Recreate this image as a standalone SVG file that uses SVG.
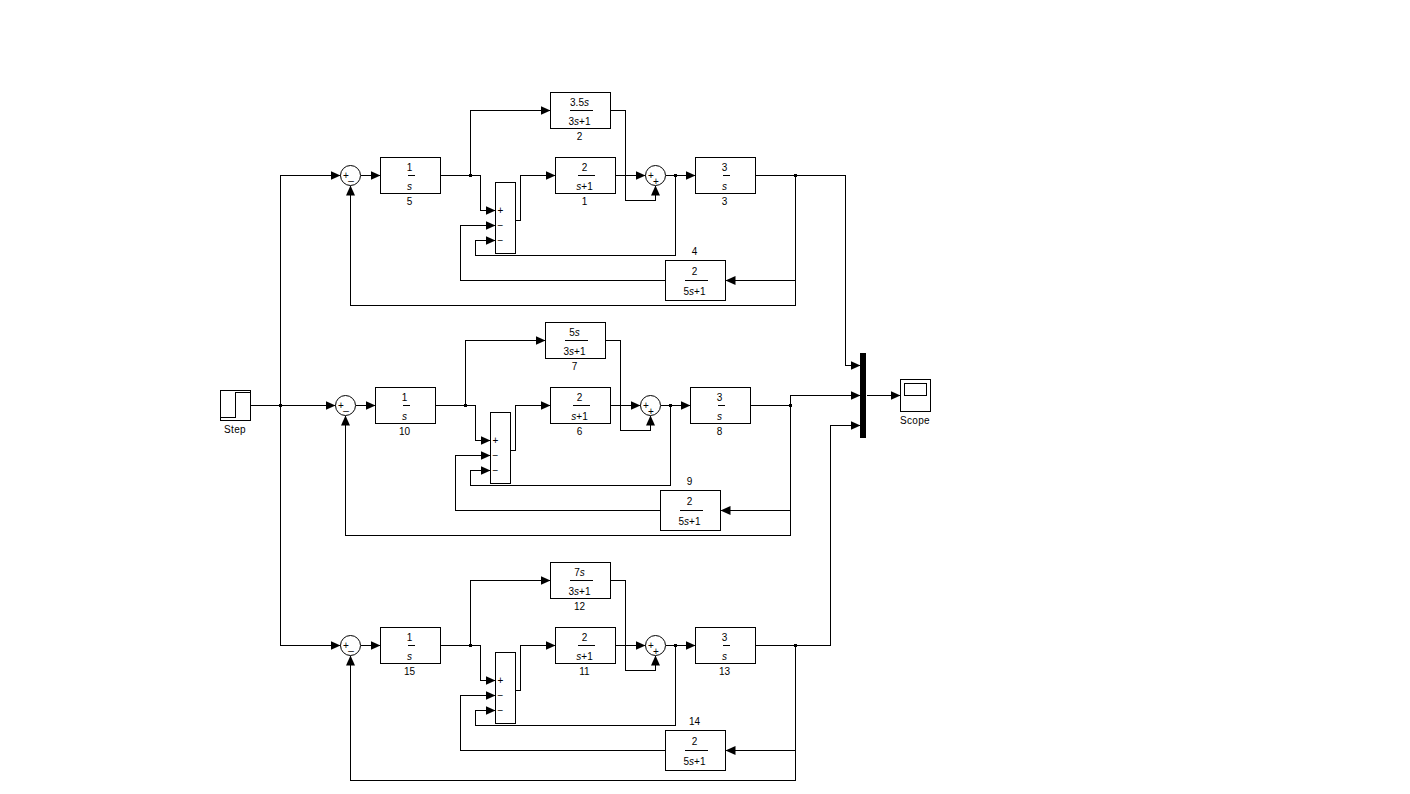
<svg xmlns="http://www.w3.org/2000/svg" width="1410" height="794" viewBox="0 0 1410 794">
<style>
text{font-family:"Liberation Sans",Arial,sans-serif;font-size:10px;fill:#000;text-anchor:middle}
.i{font-style:italic}
rect,circle{fill:#fff;stroke:#000;stroke-width:1}
.w{fill:none;stroke:#000;stroke-width:1;shape-rendering:crispEdges}
.a{marker-end:url(#arrow)}
.b{stroke:#000;stroke-width:1;shape-rendering:crispEdges}
rect{shape-rendering:crispEdges}
.j{fill:#000;stroke:none}
</style>
<defs><marker id="arrow" markerUnits="userSpaceOnUse" markerWidth="11" markerHeight="11" refX="10" refY="5" orient="auto"><path d="M0,0.500L10,5L0,9.500z" fill="#000"/></marker></defs>
<rect width="1410" height="794" style="fill:#fff;stroke:none"/>
<g transform="translate(.5,.5)">
<g id="connectors">
<path class="w a" d="M250,405H335"/>
<path class="w a" d="M280,405V175H340"/>
<path class="w a" d="M280,405V645H340"/>
<path class="w a" d="M360,175H380"/>
<path class="w a" d="M440,175H470V110H550"/>
<path class="w a" d="M470,175H480V210H495"/>
<path class="w a" d="M515,220H520V175H555"/>
<path class="w a" d="M610,110H625V200H655V185"/>
<path class="w a" d="M615,175H645"/>
<path class="w a" d="M665,175H695"/>
<path class="w a" d="M675,175V255H475V240H495"/>
<path class="w" d="M755,175H845"/>
<path class="w a" d="M845,175V365H860"/>
<path class="w a" d="M795,175V280H725"/>
<path class="w a" d="M795,280V305H350V185"/>
<path class="w a" d="M665,280H460V225H495"/>
<path class="w a" d="M355,405H375"/>
<path class="w a" d="M435,405H465V340H545"/>
<path class="w a" d="M465,405H475V440H490"/>
<path class="w a" d="M510,450H515V405H550"/>
<path class="w a" d="M605,340H620V430H650V415"/>
<path class="w a" d="M610,405H640"/>
<path class="w a" d="M660,405H690"/>
<path class="w a" d="M670,405V485H470V470H490"/>
<path class="w a" d="M750,405H790V395H860"/>
<path class="w a" d="M790,405V510H720"/>
<path class="w a" d="M790,510V535H345V415"/>
<path class="w a" d="M660,510H455V455H490"/>
<path class="w a" d="M360,645H380"/>
<path class="w a" d="M440,645H470V580H550"/>
<path class="w a" d="M470,645H480V680H495"/>
<path class="w a" d="M515,690H520V645H555"/>
<path class="w a" d="M610,580H625V670H655V655"/>
<path class="w a" d="M615,645H645"/>
<path class="w a" d="M665,645H695"/>
<path class="w a" d="M675,645V725H475V710H495"/>
<path class="w a" d="M755,645H830V425H860"/>
<path class="w a" d="M795,645V750H725"/>
<path class="w a" d="M795,750V780H350V655"/>
<path class="w a" d="M665,750H460V695H495"/>
<path class="w a" d="M866,395H900"/>
<rect class="j" x="278.500" y="403.500" width="3" height="3"/>
<rect class="j" x="468.500" y="173.500" width="3" height="3"/>
<rect class="j" x="673.500" y="173.500" width="3" height="3"/>
<rect class="j" x="793.500" y="173.500" width="3" height="3"/>
<rect class="j" x="463.500" y="403.500" width="3" height="3"/>
<rect class="j" x="668.500" y="403.500" width="3" height="3"/>
<rect class="j" x="788.500" y="403.500" width="3" height="3"/>
<rect class="j" x="468.500" y="643.500" width="3" height="3"/>
<rect class="j" x="673.500" y="643.500" width="3" height="3"/>
<rect class="j" x="793.500" y="643.500" width="3" height="3"/>
</g>

<g id="step"><rect x="220" y="390" width="30" height="30"/><path class="w" d="M220,417H235V392H250"/><text x="234.500" y="432" style="letter-spacing:.3px">Step</text></g>
<g id="scope"><rect x="900" y="379" width="30" height="32"/><rect x="904" y="383" width="22" height="12"/><text x="914.500" y="423" style="letter-spacing:.3px">Scope</text></g>
<g id="mux"><rect x="860" y="353" width="5" height="84" style="fill:#000"/></g>

<g id="sum-a1"><circle cx="350" cy="175" r="10"/><text x="345.500" y="178.500">+</text><text x="350.500" y="179">_</text></g>
<g id="sum-a2"><circle cx="655" cy="175" r="10"/><text x="650.500" y="178.500">+</text><text x="655.500" y="184">+</text></g>
<g id="sum-a3"><rect x="495" y="182" width="20" height="71"/><text x="500" y="213.500">+</text><text x="500" y="228.500">−</text><text x="500" y="243.500">−</text></g>
<g id="b5"><rect x="380" y="157" width="60" height="36"/><text x="409" y="170">1</text><path class="b" d="M407,175H414"/><text x="409" y="189" class="i">s</text><text x="409" y="204.500">5</text></g>
<g id="b2"><rect x="550" y="92" width="60" height="36"/><text x="579" y="105">3.5<tspan class="i">s</tspan></text><path class="b" d="M569,110H592"/><text x="579" y="124">3<tspan class="i">s</tspan>+1</text><text x="579" y="139.500">2</text></g>
<g id="b1"><rect x="555" y="157" width="60" height="36"/><text x="584" y="170">2</text><path class="b" d="M577,175H594"/><text x="584" y="189"><tspan class="i">s</tspan>+1</text><text x="584" y="204.500">1</text></g>
<g id="b3"><rect x="695" y="157" width="60" height="36"/><text x="724" y="170">3</text><path class="b" d="M722,175H729"/><text x="724" y="189" class="i">s</text><text x="724" y="204.500">3</text></g>
<g id="b4"><rect x="665" y="260" width="60" height="40"/><text x="694" y="254.500">4</text><text x="694" y="274">2</text><path class="b" d="M684,280H707"/><text x="694" y="294">5<tspan class="i">s</tspan>+1</text></g>

<g id="sum-b1"><circle cx="345" cy="405" r="10"/><text x="340.500" y="408.500">+</text><text x="345.500" y="409">_</text></g>
<g id="sum-b2"><circle cx="650" cy="405" r="10"/><text x="645.500" y="408.500">+</text><text x="650.500" y="414">+</text></g>
<g id="sum-b3"><rect x="490" y="412" width="20" height="71"/><text x="495" y="443.500">+</text><text x="495" y="458.500">−</text><text x="495" y="473.500">−</text></g>
<g id="b10"><rect x="375" y="387" width="60" height="36"/><text x="404" y="400">1</text><path class="b" d="M402,405H409"/><text x="404" y="419" class="i">s</text><text x="404" y="434.500">10</text></g>
<g id="b7"><rect x="545" y="322" width="60" height="36"/><text x="574" y="335">5<tspan class="i">s</tspan></text><path class="b" d="M564,340H587"/><text x="574" y="354">3<tspan class="i">s</tspan>+1</text><text x="574" y="369.500">7</text></g>
<g id="b6"><rect x="550" y="387" width="60" height="36"/><text x="579" y="400">2</text><path class="b" d="M572,405H589"/><text x="579" y="419"><tspan class="i">s</tspan>+1</text><text x="579" y="434.500">6</text></g>
<g id="b8"><rect x="690" y="387" width="60" height="36"/><text x="719" y="400">3</text><path class="b" d="M717,405H724"/><text x="719" y="419" class="i">s</text><text x="719" y="434.500">8</text></g>
<g id="b9"><rect x="660" y="490" width="60" height="40"/><text x="689" y="484.500">9</text><text x="689" y="504">2</text><path class="b" d="M679,510H702"/><text x="689" y="524">5<tspan class="i">s</tspan>+1</text></g>

<g id="sum-c1"><circle cx="350" cy="645" r="10"/><text x="345.500" y="648.500">+</text><text x="350.500" y="649">_</text></g>
<g id="sum-c2"><circle cx="655" cy="645" r="10"/><text x="650.500" y="648.500">+</text><text x="655.500" y="654">+</text></g>
<g id="sum-c3"><rect x="495" y="652" width="20" height="71"/><text x="500" y="683.500">+</text><text x="500" y="698.500">−</text><text x="500" y="713.500">−</text></g>
<g id="b15"><rect x="380" y="627" width="60" height="36"/><text x="409" y="640">1</text><path class="b" d="M407,645H414"/><text x="409" y="659" class="i">s</text><text x="409" y="674.500">15</text></g>
<g id="b12"><rect x="550" y="562" width="60" height="36"/><text x="579" y="575">7<tspan class="i">s</tspan></text><path class="b" d="M569,580H592"/><text x="579" y="594">3<tspan class="i">s</tspan>+1</text><text x="579" y="609.500">12</text></g>
<g id="b11"><rect x="555" y="627" width="60" height="36"/><text x="584" y="640">2</text><path class="b" d="M577,645H594"/><text x="584" y="659"><tspan class="i">s</tspan>+1</text><text x="584" y="674.500">11</text></g>
<g id="b13"><rect x="695" y="627" width="60" height="36"/><text x="724" y="640">3</text><path class="b" d="M722,645H729"/><text x="724" y="659" class="i">s</text><text x="724" y="674.500">13</text></g>
<g id="b14"><rect x="665" y="730" width="60" height="40"/><text x="694" y="724.500">14</text><text x="694" y="744">2</text><path class="b" d="M684,750H707"/><text x="694" y="764">5<tspan class="i">s</tspan>+1</text></g>
</g>
</svg>
